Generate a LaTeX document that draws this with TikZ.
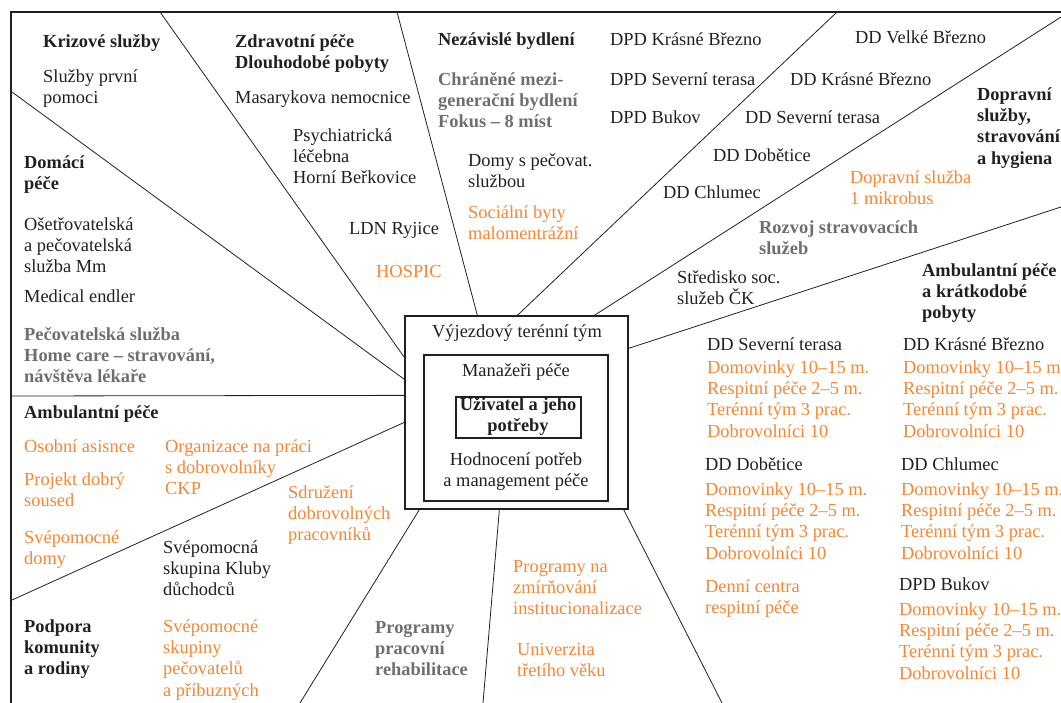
\documentclass[tikz,border=0pt]{standalone}
\usepackage{fontspec}
\setmainfont{Liberation Serif}
\usepackage{xcolor}
\definecolor{ink}{HTML}{231F20}
\definecolor{orng}{HTML}{F58634}
\definecolor{sedy}{HTML}{6D6E71}
\newcommand{\up}{\rule{0pt}{17bp}}
\tikzset{
  tx/.style={anchor=north west,yshift=17bp,inner sep=0pt,align=left,text=ink,
    font=\fontsize{18.4bp}{21.3bp}\selectfont,execute at begin node={\up}},
  hd/.style={tx,font=\fontsize{18.4bp}{21.3bp}\selectfont\bfseries},
  orn/.style={tx,text=orng},
  gr/.style={hd,text=sedy},
  mid/.style={anchor=north,align=center},
  ray/.style={ink,line width=0.8bp},
  bx/.style={draw=ink,line width=1.3bp,inner sep=0pt},
  frm/.style={ink,line width=2.6bp}
}
\newcommand{\kap}{\up Domovinky 10--15 m.\\Respitní péče 2--5 m.\\Terénní tým 3 prac.\\Dobrovolníci 10}

\begin{document}
\begin{tikzpicture}[x=1bp,y=-1bp]
\useasboundingbox (0,0) rectangle (1061,703);
\draw[frm] (11,703) -- (11,12) -- (1061,12);

\node[bx,minimum width=223bp,minimum height=193bp] (tym) at (516.5,412.5) {};
\node[bx,minimum width=184bp,minimum height=146bp] (man) at (516,428) {};
\node[bx,minimum width=125bp,minimum height=41bp] (uziv) at (518.5,417.5) {};
\node[tx,mid] (vyj) at (517,337) {Výjezdový terénní tým};
\node[tx,mid] (manz) at (516,376) {Manažeři péče};
\node[hd,mid] (uzt) at (518,410) {\up Uživatel a jeho\\potřeby};
\node[tx,mid] (hodn) at (516,465) {\up Hodnocení potřeb\\a management péče};

\coordinate (r1) at (12,92);   \coordinate (r2) at (160,12);
\coordinate (r3) at (397,12);  \coordinate (r4) at (837,12);
\coordinate (r5) at (1061,17); \coordinate (r6) at (1061,207);
\coordinate (r7) at (12,396);  \coordinate (r8) at (12,600);
\coordinate (r9) at (300,703); \coordinate (r10) at (483,703);
\coordinate (r11) at (722,703);
\draw[ray] ([yshift=-64bp]tym.north west) -- (r1);
\draw[ray] ([yshift=-42bp]tym.north west) -- (r2);
\draw[ray] ([xshift=73bp]tym.north west) -- (r3);
\draw[ray] ([xshift=113bp]tym.north west) -- (r4);
\draw[ray] ([xshift=190bp]tym.north west) -- (r5);
\draw[ray] ([yshift=-33bp]tym.north east) -- (r6);
\draw[ray] ([yshift=-80bp]tym.north west) -- (r7);
\draw[ray] ([yshift=-107bp]tym.north west) -- (r8);
\draw[ray] ([xshift=15bp]tym.south west) -- (r9);
\draw[ray] ([xshift=95bp]tym.south west) -- (r10);
\draw[ray] ([xshift=-5bp]tym.south east) -- (r11);

\node[hd] (kriz) at (43,47) {Krizové služby};
\node[tx] (prvni) at (43,82) {\up Služby první\\pomoci};
\node[hd] (domaci) at (24,168) {\up Domácí\\péče};
\node[tx] (oset) at (24,230) {\up Ošetřovatelská\\a pečovatelská\\služba Mm};
\node[tx] (medic) at (24,302) {Medical endler};
\node[gr] (pecsl) at (24,340) {\up Pečovatelská služba\\Home care -- stravování,\\návštěva lékaře};
\node[hd] (ambul) at (24,418) {Ambulantní péče};
\node[orn] (osob) at (24,452) {Osobní asisnce};
\node[orn] (sous) at (24,485) {\up Projekt dobrý\\soused};
\node[orn] (svdom) at (24,543) {\up Svépomocné\\domy};
\node[orn] (organ) at (165,452) {\up Organizace na práci\\s dobrovolníky\\CKP};
\node[orn] (sdruz) at (288,498) {\up Sdružení\\dobrovolných\\pracovníků};
\node[tx] (klub) at (163,553) {\up Svépomocná\\skupina Kluby\\důchodců};
\node[hd] (podp) at (24,632) {\up Podpora\\komunity\\a rodiny};
\node[orn] (svsk) at (163,632) {\up Svépomocné\\skupiny\\pečovatelů\\a příbuzných};
\node[gr] (rehab) at (375,633) {\up Programy\\pracovní\\rehabilitace};
\node[orn] (zmir) at (513,572) {\up Programy na\\zmírňování\\institucionalizace};
\node[orn] (univ) at (517,655) {\up Univerzita\\třetího věku};

\node[hd] (zdrav) at (235,47) {\up Zdravotní péče\\Dlouhodobé pobyty};
\node[tx] (masar) at (235,103) {Masarykova nemocnice};
\node[tx] (psych) at (293,141) {\up Psychiatrická\\léčebna\\Horní Beřkovice};
\node[tx] (ldn) at (349,234) {LDN Ryjice};
\node[orn] (hosp) at (376,277) {HOSPIC};
\node[hd] (nezav) at (438,45) {Nezávislé bydlení};
\node[gr] (chran) at (438,85) {\up Chráněné mezi-\\generační bydlení\\Fokus -- 8 míst};
\node[tx] (domy) at (468,166) {\up Domy s pečovat.\\službou};
\node[orn] (socb) at (468,218) {\up Sociální byty\\malomentrážní};
\node[tx] (dpdkb) at (610,45) {DPD Krásné Březno};
\node[tx] (dpdst) at (610,85) {DPD Severní terasa};
\node[tx] (dpdbk) at (610,123) {DPD Bukov};
\node[tx] (ddvb) at (855,43) {DD Velké Březno};
\node[tx] (ddkb) at (790,85) {DD Krásné Březno};
\node[tx] (ddst) at (745,123) {DD Severní terasa};
\node[tx] (dddb) at (713,161) {DD Dobětice};
\node[tx] (ddch) at (663,198) {DD Chlumec};
\node[hd] (doprh) at (977,100) {\up Dopravní\\služby,\\stravování\\a hygiena};
\node[orn] (mikro) at (850,183) {\up Dopravní služba\\1 mikrobus};
\node[gr] (rozv) at (759,233) {\up Rozvoj stravovacích\\služeb};
\node[tx] (strck) at (677,283) {\up Středisko soc.\\služeb ČK};
\node[hd] (ambkr) at (922,276) {\up Ambulantní péče\\a krátkodobé\\pobyty};

\node[tx] (st) at (707,350) {DD Severní terasa};
\node[orn] (stk) at (707,373) {\kap};
\node[tx] (db) at (705,470) {DD Dobětice};
\node[orn] (dbk) at (705,495) {\kap};
\node[orn] (denni) at (705,592) {\up Denní centra\\respitní péče};
\node[tx] (kb) at (903,350) {DD Krásné Březno};
\node[orn] (kbk) at (903,373) {\kap};
\node[tx] (ch) at (901,470) {DD Chlumec};
\node[orn] (chk) at (901,495) {\kap};
\node[tx] (bk) at (899,590) {DPD Bukov};
\node[orn] (bkk) at (899,615) {\kap};
\end{tikzpicture}
\end{document}
